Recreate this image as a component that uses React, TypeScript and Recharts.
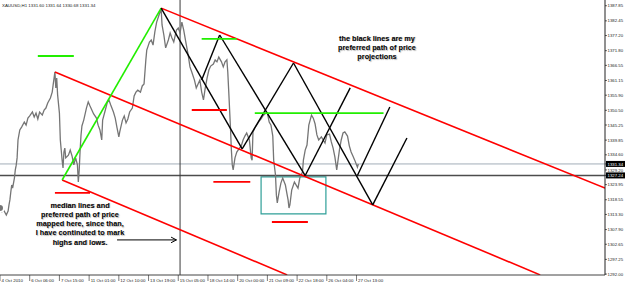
import { LineChart, Line, XAxis, YAxis, ReferenceLine, ReferenceArea } from "recharts";

// XAUUSD H1 chart with hand-drawn median lines / projected path.
// x = bar index from the first visible bar, y = price.
const W = 625;
const H = 286;

const closes: [number, number][] = [
  [0, 1315.6], [2, 1314.2], [4, 1314.9], [7, 1313.1], [9, 1314.5], [10, 1316.7], [11, 1318.5], [12, 1321.3],
  [13, 1323.8], [14, 1322.7], [16, 1326.3], [17, 1329.2], [18, 1330.9], [19, 1333.5], [20, 1339.9], [21, 1341.7],
  [22, 1343.5], [24, 1344.5], [27, 1346.3], [29, 1345.2], [31, 1347.7], [33, 1348.5], [36, 1349.9], [38, 1348.1],
  [40, 1349.5], [42, 1347.4], [44, 1349.9], [47, 1348.8], [49, 1350.6], [51, 1351.3], [53, 1353.1], [56, 1354.9],
  [58, 1357.0], [59, 1359.5], [61, 1364.2], [62, 1358.5], [63, 1362.0], [64, 1356.0], [66, 1349.5], [67, 1339.9],
  [68, 1336.3], [69, 1332.7], [70, 1329.9], [71, 1335.6], [72, 1337.0], [73, 1333.5], [76, 1334.5], [78, 1336.3],
  [80, 1334.2], [82, 1331.0], [84, 1333.5], [86, 1331.0], [87, 1324.9], [88, 1329.2], [89, 1336.3], [90, 1341.7],
  [91, 1344.9], [93, 1347.0], [96, 1351.3], [98, 1353.5], [100, 1352.0], [102, 1350.6], [104, 1349.2], [107, 1347.8],
  [109, 1345.2], [111, 1343.5], [113, 1339.9], [114, 1347.0], [117, 1350.6], [119, 1353.1], [121, 1354.2], [123, 1352.4],
  [126, 1349.9], [128, 1347.7], [130, 1344.2], [132, 1341.0], [133, 1342.8], [136, 1347.0], [138, 1348.5], [140, 1346.0],
  [142, 1347.4], [144, 1349.9], [147, 1351.3], [149, 1355.6], [151, 1357.0], [153, 1357.7], [156, 1357.0], [158, 1359.2],
  [160, 1359.9], [162, 1368.5], [163, 1372.0], [166, 1374.9], [168, 1375.6], [170, 1373.8], [172, 1378.5], [174, 1382.0],
  [177, 1384.9], [179, 1386.7], [180, 1381.0], [182, 1377.4], [184, 1372.8], [187, 1375.6], [189, 1378.1], [191, 1376.3],
  [193, 1374.9], [196, 1379.2], [198, 1379.9], [200, 1378.1], [202, 1382.0], [204, 1379.2], [207, 1373.8], [209, 1370.3],
  [211, 1366.0], [213, 1364.2], [216, 1361.3], [218, 1358.5], [220, 1359.9], [222, 1361.3], [224, 1357.0], [226, 1354.2],
  [228, 1358.5], [230, 1362.0], [232, 1364.9], [234, 1366.3], [237, 1367.0], [239, 1368.5], [241, 1367.8], [243, 1369.5],
  [246, 1367.8], [248, 1366.0], [250, 1367.8], [252, 1368.5], [253, 1364.2], [254, 1357.7], [256, 1344.2], [257, 1336.3],
  [258, 1331.0], [259, 1329.2], [261, 1333.5], [263, 1335.6], [266, 1337.0], [268, 1337.8], [270, 1339.9], [272, 1341.3],
  [274, 1342.4], [277, 1339.9], [279, 1333.5], [280, 1332.7], [281, 1342.8], [283, 1344.2], [286, 1345.6], [288, 1346.7],
  [290, 1347.4], [292, 1348.5], [294, 1349.2], [297, 1349.5], [299, 1346.3], [301, 1345.2], [303, 1341.3], [304, 1332.7],
  [306, 1327.4], [307, 1320.2], [308, 1317.4], [310, 1321.3], [312, 1324.5], [314, 1326.3], [317, 1323.8], [319, 1320.2],
  [320, 1318.5], [321, 1315.6], [322, 1316.7], [324, 1322.0], [327, 1324.9], [329, 1323.8], [331, 1322.7], [333, 1326.3],
  [336, 1328.5], [337, 1332.7], [339, 1336.3], [341, 1338.1], [343, 1345.2], [346, 1348.8], [348, 1347.7], [350, 1345.6],
  [352, 1341.7], [354, 1339.9], [357, 1341.0], [359, 1339.9], [361, 1338.8], [363, 1341.7], [366, 1342.0], [368, 1339.2],
  [370, 1337.0], [372, 1333.8], [374, 1329.2], [377, 1336.3], [379, 1339.9], [381, 1342.4], [383, 1342.8], [386, 1341.3],
  [388, 1337.8], [390, 1335.6], [392, 1334.2], [394, 1332.7], [397, 1330.2], [398, 1331.3],
];

const timeTicks = [0, 33, 66, 99, 132, 165, 198, 231, 264, 297, 330, 363, 396];
const timeLabels = [
  "4 Oct 2010", "6 Oct 06:00", "7 Oct 15:00", "11 Oct 01:00", "12 Oct 10:00", "13 Oct 19:00", "15 Oct 05:00",
  "18 Oct 14:00", "20 Oct 00:00", "21 Oct 09:00", "22 Oct 18:00", "26 Oct 04:00", "27 Oct 13:00",
];

const priceTicks = [
  1387.85, 1382.45, 1377.2, 1371.8, 1366.55, 1361.15, 1355.9, 1350.5, 1345.25, 1339.85,
  1334.6, 1329.2, 1323.95, 1318.55, 1313.3, 1307.9, 1302.65, 1297.25, 1292.0,
];
const bidLevel = 1331.34;
const markLevel = 1327.24;
const separatorBar = 200;

// [bar1, price1, bar2, price2]
const medianLines = [
  [179, 1387.0, 672, 1322.7],
  [61, 1364.2, 600, 1291.7],
  [69, 1325.6, 319, 1291.7],
];
const greenLeg = [[69, 1325.6, 179, 1387.0]];
const pathLines = [
  [179, 1387.0, 269, 1336.7],
  [224, 1361.3, 244, 1377.4],
  [244, 1377.4, 339, 1327.2],
  [269, 1336.7, 326, 1367.4],
  [339, 1327.2, 389, 1358.5],
  [326, 1367.4, 414, 1316.7],
  [397, 1327.2, 433, 1351.7],
  [414, 1316.7, 452, 1340.6],
];
// [barFrom, barTo, price]
const highMarks = [[42, 82, 1369.9], [224, 263, 1376.0], [283, 426, 1349.5]];
const lowMarks = [[61, 100, 1321.0], [213, 252, 1350.6], [237, 278, 1324.9], [302, 342, 1310.6]];
const rangeBox = { from: 290, to: 362, low: 1313.5, high: 1326.7 };
const arrowLines = [
  [130, 1304.2, 196, 1304.2],
  [196, 1304.2, 190, 1305.2],
  [196, 1304.2, 190, 1303.2],
];

const noteRight = ["the black lines are my", "preferred path of price", "projections"];
const noteLeft = ["median lines and", "preferred path of price", "mapped here, since than,", "I have continuted to mark", "highs and lows."];
const title = "XAUUSD,H1  1331.60 1331.64 1330.68 1331.34";

const SMALL = "'Liberation Sans', Arial, sans-serif";

function PriceTick(props: any) {
  const { x, y, payload } = props;
  const v = payload.value as number;
  const hi = v === bidLevel || v === markLevel;
  return (
    <g>
      <line x1={x} x2={x + 2} y1={y} y2={y} stroke="#000" strokeWidth={0.6} />
      {hi && <rect x={x + 1} y={y - 3} width={19} height={6} fill="#000" />}
      <text x={x + 2.5} y={y + 1.6} fontSize={4.3} fontFamily={SMALL} fill={hi ? "#fff" : "#222"}>
        {v.toFixed(2)}
      </text>
    </g>
  );
}

function TimeTick(props: any) {
  const { x, y, payload } = props;
  const i = timeTicks.indexOf(payload.value);
  return (
    <g>
      <line x1={x} x2={x} y1={y} y2={y + 6} stroke="#222" strokeWidth={0.6} />
      <text x={x + 1.5} y={y + 7} fontSize={4.4} fontFamily={SMALL} fill="#222">
        {timeLabels[i]}
      </text>
    </g>
  );
}

function seg(s: number[], color: string, width: number, key: string) {
  return (
    <ReferenceLine
      key={key}
      segment={[{ x: s[0], y: s[1] }, { x: s[2], y: s[3] }]}
      stroke={color}
      strokeWidth={width}
      ifOverflow="hidden"
    />
  );
}

export default function App() {
  const data = closes.map(([bar, close]) => ({ bar, close }));
  return (
    <div style={{ position: "absolute", left: 0, top: 0, width: W, height: H, background: "#fff" }}>
      <LineChart width={W} height={H} data={data} margin={{ top: 0, right: 0, bottom: 0, left: 0 }}>
        <XAxis
          type="number"
          dataKey="bar"
          domain={[0, 672]}
          ticks={timeTicks}
          interval={0}
          height={11}
          tickLine={false}
          tickSize={0}
          tickMargin={0}
          stroke="#444"
          tick={(p: any) => <TimeTick {...p} />}
          allowDataOverflow
        />
        <YAxis
          orientation="right"
          type="number"
          domain={[1291.67, 1389.9]}
          ticks={[...priceTicks, bidLevel, markLevel]}
          interval={0}
          width={20}
          tickLine={false}
          tickSize={0}
          tickMargin={0}
          stroke="#222"
          tick={(p: any) => <PriceTick {...p} />}
          allowDataOverflow
        />
        <ReferenceLine y={bidLevel} stroke="#a3adb8" strokeWidth={1} />
        <ReferenceLine y={markLevel} stroke="#4d4d4d" strokeWidth={1.5} />
        <ReferenceLine x={separatorBar} stroke="#3a3a3a" strokeWidth={1} />
        <Line dataKey="close" stroke="#757575" strokeWidth={1.3} dot={false} isAnimationActive={false} />
        {medianLines.map((s, i) => seg(s, "#ff0000", 1.6, "m" + i))}
        {greenLeg.map((s, i) => seg(s, "#22ee00", 1.6, "g" + i))}
        {pathLines.map((s, i) => seg(s, "#000", 1.4, "p" + i))}
        {highMarks.map((m, i) => seg([m[0], m[2], m[1], m[2]], "#22ee00", 1.8, "h" + i))}
        {lowMarks.map((m, i) => seg([m[0], m[2], m[1], m[2]], "#ff0000", 1.8, "l" + i))}
        {arrowLines.map((s, i) => seg(s, "#000", 1, "a" + i))}
        <ReferenceArea
          x1={rangeBox.from}
          x2={rangeBox.to}
          y1={rangeBox.low}
          y2={rangeBox.high}
          fill="none"
          fillOpacity={0}
          stroke="#2f9f98"
          strokeWidth={1.2}
          ifOverflow="hidden"
        />
      </LineChart>
      <svg width={W} height={H} style={{ position: "absolute", left: 0, top: 0, pointerEvents: "none" }}>
        <text x={2} y={7} fontSize={4.4} fontFamily={SMALL} fill="#222">{title}</text>
        {noteRight.map((t, i) => (
          <text key={t} x={377} y={40.5 + i * 9.3} textAnchor="middle" fontSize={7.3} fontWeight="bold"
            fontFamily={SMALL} fill="#000" style={{ textShadow: "0.8px 0.8px 1px #b0b0b0" }}>{t}</text>
        ))}
        {noteLeft.map((t, i) => (
          <text key={t} x={80} y={207.5 + i * 9.3} textAnchor="middle" fontSize={7.3} fontWeight="bold"
            fontFamily={SMALL} fill="#000" style={{ textShadow: "0.8px 0.8px 1px #b0b0b0" }}>{t}</text>
        ))}
      </svg>
    </div>
  );
}
